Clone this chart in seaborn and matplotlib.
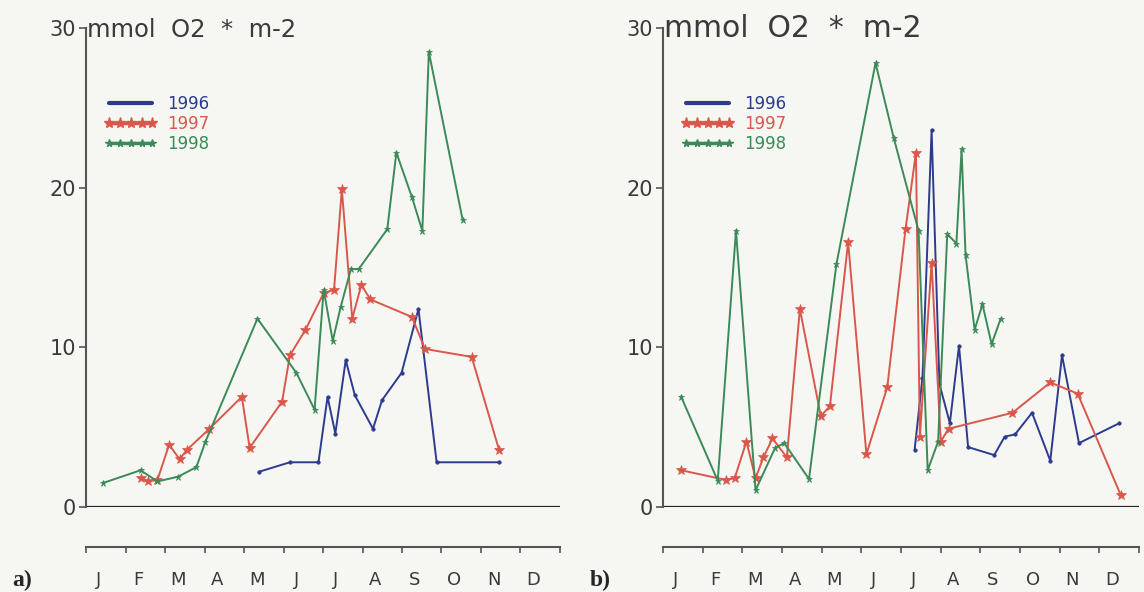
import numpy as np
import pandas as pd
import matplotlib.pyplot as plt
from matplotlib.lines import Line2D
import seaborn as sns

# day of year / value pairs
a_doy_1996 = [133, 157, 179, 186, 192, 200, 207, 221, 228, 243, 256, 270, 318]
a_val_1996 = [2.2, 2.8, 2.8, 6.9, 4.6, 9.2, 7.0, 4.9, 6.7, 8.4, 12.4, 2.8, 2.8]
a_doy_1997 = [42, 48, 55, 64, 72, 78, 95, 120, 126, 151, 157, 169, 183, 191, 197,
              205, 212, 219, 251, 261, 297, 318]
a_val_1997 = [1.8, 1.6, 1.7, 3.9, 3.0, 3.6, 4.9, 6.9, 3.7, 6.6, 9.5, 11.1, 13.4, 13.6, 19.9,
              11.8, 13.9, 13.0, 11.9, 9.9, 9.4, 3.6]
a_doy_1998 = [13, 42, 55, 71, 85, 92, 132, 162, 176, 183, 190, 196, 204, 210, 232, 239,
              251, 259, 264, 290]
a_val_1998 = [1.5, 2.3, 1.6, 1.9, 2.5, 4.1, 11.8, 8.4, 6.1, 13.6, 10.4, 12.5, 14.9, 14.9, 17.4, 22.2,
              19.4, 17.3, 28.5, 18.0]

b_doy_1996 = [193, 199, 206, 212, 220, 227, 234, 254, 262, 270, 283, 297, 306, 319, 350]
b_val_1996 = [3.6, 8.1, 23.6, 7.7, 5.25, 10.1, 3.75, 3.25, 4.4, 4.55, 5.9, 2.9, 9.5, 4.0, 5.25]
b_doy_1997 = [14, 48, 55, 64, 71, 77, 84, 95, 105, 121, 128, 142, 156, 172, 186, 194,
              197, 206, 213, 219, 268, 297, 318, 351]
b_val_1997 = [2.3, 1.7, 1.8, 4.1, 1.8, 3.1, 4.3, 3.1, 12.4, 5.7, 6.3, 16.6, 3.3, 7.5, 17.4, 22.2,
              4.4, 15.3, 4.1, 4.9, 5.9, 7.8, 7.1, 0.75]
b_doy_1998 = [14, 42, 56, 71, 86, 93, 112, 133, 163, 177, 196, 203, 211, 218, 225, 229,
              232, 239, 245, 252, 259]
b_val_1998 = [6.9, 1.65, 17.3, 1.05, 3.7, 4.0, 1.75, 15.2, 27.8, 23.1, 17.3, 2.3, 4.1, 17.1, 16.5, 22.4,
              15.8, 11.1, 12.7, 10.2, 11.8]

months = ["J", "F", "M", "A", "M", "J", "J", "A", "S", "O", "N", "D"]
years = ["1996", "1997", "1998"]
colors = {"1996": "#2c3b8e", "1997": "#d9574b", "1998": "#3b8a58"}
markers = {"1996": ("o", 2.5), "1997": ("*", 7), "1998": ("*", 4.5)}

panels = {
    "a)": {"1996": (a_doy_1996, a_val_1996), "1997": (a_doy_1997, a_val_1997),
           "1998": (a_doy_1998, a_val_1998)},
    "b)": {"1996": (b_doy_1996, b_val_1996), "1997": (b_doy_1997, b_val_1997),
           "1998": (b_doy_1998, b_val_1998)},
}

sns.set_style("white")
plt.rcParams["font.family"] = ["DejaVu Sans"]
bg = "#f6f7f3"

fig = plt.figure(figsize=(11.44, 5.92), dpi=100, facecolor=bg)
rects = {"a)": [0.0752, 0.1436, 0.4143, 0.8091], "b)": [0.5795, 0.1436, 0.4161, 0.8091]}
title_size = {"a)": 17.5, "b)": 21.5}
title_x = {"a)": 0.026, "b)": 0.03}
tag_x = {"a)": 22, "b)": 600}

for key, series in panels.items():
    ax = fig.add_axes(rects[key])
    ax.set_facecolor("none")
    for yr in years:
        d, v = series[yr]
        df = pd.DataFrame({"month": np.array(d) * 12 / 365, "value": v})
        m, ms = markers[yr]
        sns.lineplot(data=df, x="month", y="value", ax=ax, sort=False, estimator=None,
                     color=colors[yr], lw=1.4, marker=m, markersize=ms,
                     markeredgewidth=0.5, markeredgecolor=colors[yr])
    ax.set_xlim(0, 12)
    ax.set_ylim(0, 30)
    ax.set_xlabel("")
    ax.set_ylabel("")
    for s in ["top", "right"]:
        ax.spines[s].set_visible(False)
    ax.spines["left"].set_color("#555555")
    ax.spines["left"].set_linewidth(1.5)
    ax.spines["bottom"].set_position(("outward", 29))
    ax.spines["bottom"].set_color("#555555")
    ax.spines["bottom"].set_linewidth(1.5)
    ax.axhline(0, color="#222222", lw=1.6, zorder=1)

    ax.set_yticks([0, 10, 20, 30])
    ax.tick_params(axis="y", left=True, direction="out", length=5, width=1.2, color="#555555",
                   labelsize=15, labelcolor="#3a3a3a", pad=2)
    ax.set_xticks(range(13))
    ax.set_xticklabels([""] * 13)
    ax.set_xticks(np.arange(12) + 0.32, minor=True)
    ax.set_xticklabels(months, minor=True)
    ax.tick_params(axis="x", which="major", bottom=True, direction="out", length=4, width=1.2,
                   color="#555555")
    ax.tick_params(axis="x", which="minor", bottom=True, length=0, labelsize=13,
                   labelcolor="#3a3a3a", pad=17)

    ax.text(title_x[key], 29.45, "mmol  O2  *  m-2", fontsize=title_size[key], color="#3a3a3a",
            va="baseline", ha="left")

    handles = []
    for yr in years:
        m, ms = markers[yr]
        if yr == "1996":
            h = Line2D([], [], color=colors[yr], lw=3)
        else:
            h = Line2D([], [], color=colors[yr], lw=2.5, marker=m, markersize=ms + 1)
        handles.append(h)
    leg = ax.legend(handles, years, loc="upper left", bbox_to_anchor=(0.038, 0.86),
                    frameon=False, borderpad=0, borderaxespad=0, handlelength=3.2,
                    handletextpad=0.6, labelspacing=0.12, numpoints=5, fontsize=12,
                    labelcolor="linecolor")

    fig.text(tag_x[key] / 1144, 1 - 580 / 592, key, fontsize=17, fontweight="bold",
             family="Liberation Serif", ha="center", va="center")

fig.savefig("out.png", dpi=100, facecolor=bg)
